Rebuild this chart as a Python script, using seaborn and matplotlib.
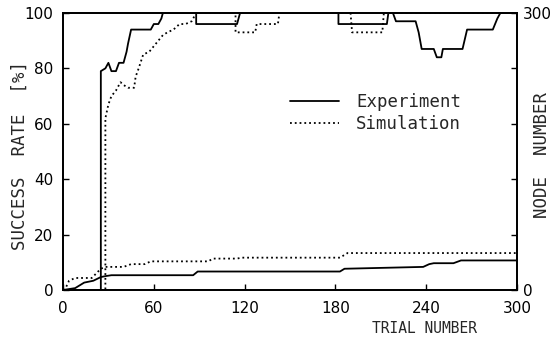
import pandas as pd
import seaborn as sns
import matplotlib
matplotlib.use('Agg')
import matplotlib.pyplot as plt

# success rate [%] vs trial number
exp_rate_x = [0, 25, 25, 28, 30, 32, 35, 37, 40, 42, 43, 45, 58, 60, 63, 65, 66,
              88, 88, 115, 117, 182, 182, 214, 215, 218, 220, 233, 235, 237,
              245, 247, 250, 251, 264, 267, 284, 287, 289, 300]
exp_rate_y = [0, 0, 79, 80, 82, 79, 79, 82, 82, 86, 89, 94, 94, 96, 96, 98, 100,
              100, 96, 96, 100, 100, 96, 96, 100, 100, 97, 97, 93, 87,
              87, 84, 84, 87, 87, 94, 94, 98, 100, 100]

sim_rate_x = [0, 28, 28, 30, 32, 35, 38, 40, 43, 47, 48, 50, 53, 57, 60, 63, 66,
              69, 73, 77, 81, 85, 88, 114, 114, 127, 128, 142, 143,
              190, 191, 211, 212, 300]
sim_rate_y = [0, 0, 62, 67, 70, 72, 75, 74, 73, 73, 77, 80, 85, 86, 88, 90, 92,
              93, 94, 96, 96, 97, 100, 100, 93, 93, 96, 96, 100,
              100, 93, 93, 100, 100]

# node number vs trial number
exp_node_x = [0, 8, 14, 20, 25, 28, 32, 86, 89, 183, 186, 238, 242, 245, 258, 263, 300]
exp_node_y = [0, 2, 8, 10, 14, 15, 16, 16, 20, 20, 23, 25, 28, 29, 29, 32, 32]

sim_node_x = [0, 2, 4, 8, 19, 25, 28, 40, 45, 54, 58, 96, 99, 115, 118, 183, 188, 300]
sim_node_y = [0, 3, 10, 13, 13, 23, 25, 25, 28, 28, 31, 31, 34, 34, 35, 35, 40, 40]

sns.set_style('ticks')
plt.rcParams['font.family'] = ['DejaVu Sans']
plt.rcParams['xtick.direction'] = 'in'
plt.rcParams['ytick.direction'] = 'in'

fig = plt.figure(figsize=(5.59, 3.41), dpi=100)
ax = fig.add_axes([0.1127, 0.1496, 0.8122, 0.8124])
ax2 = ax.twinx()

sns.lineplot(x=exp_rate_x, y=exp_rate_y, ax=ax, color='black', linewidth=1.3,
             estimator=None, sort=False, label='Experiment')
sns.lineplot(x=sim_rate_x, y=sim_rate_y, ax=ax, color='black', linewidth=1.3,
             linestyle=':', estimator=None, sort=False, label='Simulation')
sns.lineplot(x=exp_node_x, y=exp_node_y, ax=ax2, color='black', linewidth=1.3,
             estimator=None, sort=False)
sns.lineplot(x=sim_node_x, y=sim_node_y, ax=ax2, color='black', linewidth=1.3,
             linestyle=':', estimator=None, sort=False)

ax.set_xlim(0, 300)
ax.set_ylim(0, 100)
ax2.set_ylim(0, 300)
ax.set_xticks([0, 60, 120, 180, 240, 300])
ax.set_yticks([0, 20, 40, 60, 80, 100])
ax2.set_yticks([0, 60, 120, 180, 240, 300])
ax2.set_yticklabels(['0', '', '', '', '', '300'])

for a in (ax, ax2):
    a.tick_params(labelsize=11, length=4, width=1, colors='black')
    for s in a.spines.values():
        s.set_visible(True)
        s.set_linewidth(1.3)
        s.set_color('black')
ax.tick_params(axis='x', pad=8)
ax.tick_params(axis='y', pad=7)
ax2.tick_params(axis='y', pad=4)

ax.set_xlabel('')
ax.set_ylabel('')
fig.text(0.036, 0.543, 'SUCCESS  RATE  [%]', rotation=90, ha='center', va='center',
         fontsize=12.5, family='DejaVu Sans Mono')
fig.text(0.970, 0.545, 'NODE  NUMBER', rotation=90, ha='center', va='center',
         fontsize=12.5, family='DejaVu Sans Mono')
fig.text(0.760, 0.038, 'TRIAL NUMBER', ha='center', va='center', fontsize=10.5,
         family='DejaVu Sans Mono')

leg = ax.legend(loc='upper left', bbox_to_anchor=(0.5, 0.71), frameon=False,
                prop={'family': 'DejaVu Sans Mono', 'size': 12.5},
                handlelength=2.8, handletextpad=1.0, labelspacing=0.2,
                borderpad=0, borderaxespad=0)

fig.savefig('out.png', dpi=100)
